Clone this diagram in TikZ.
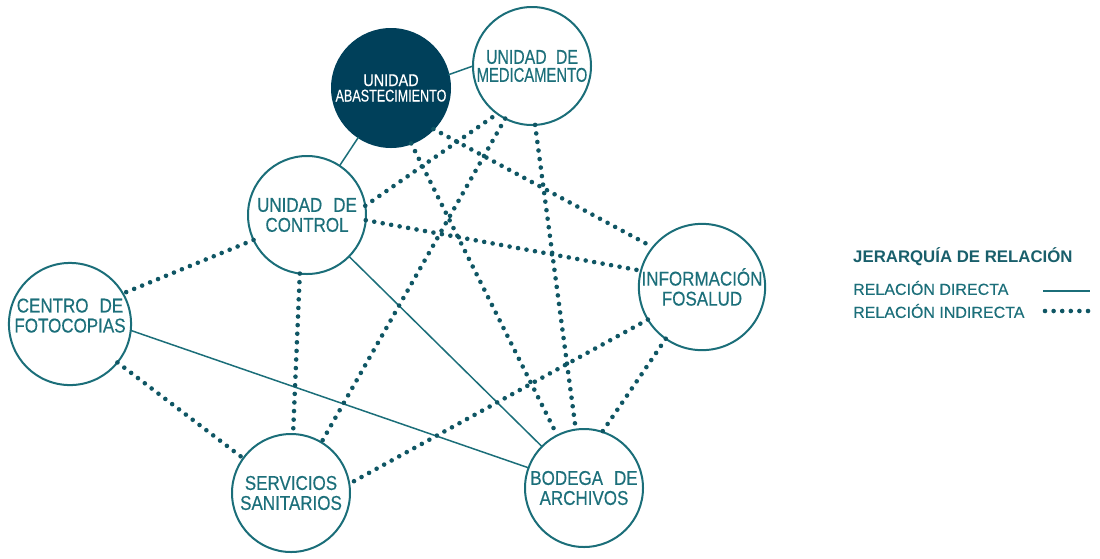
\documentclass[tikz,border=0pt]{standalone}
\usepackage{fontspec}
\setmainfont{Liberation Sans}
\newfontfamily\nodefont[FakeStretch=0.85,FakeBold=0.4]{Liberation Sans}
\newfontfamily\legfont[FakeBold=0.2]{Liberation Sans}
\definecolor{tealline}{HTML}{1B6E79}
\definecolor{tealdot}{HTML}{0F5664}
\definecolor{tealtext}{HTML}{1C6F7A}
\definecolor{tealdark}{HTML}{00405A}
\definecolor{tealtitle}{HTML}{195F6B}
\tikzset{
  unit/.style={circle, draw=tealline, line width=2pt, minimum size=118pt, inner sep=0pt, outer sep=0pt,
    align=center, text=tealtext, font=\nodefont\fontsize{20}{20}\selectfont},
  unitdark/.style={unit, fill=tealdark, draw=tealdark, text=white, font=\nodefont\fontsize{17}{15.5}\selectfont},
  direct/.style={draw=tealline, line width=1.5pt},
  indirect/.style={draw=tealdot, line width=4.6pt, line cap=round, dash pattern=on 0pt off 8.6pt},
  legtext/.style={anchor=west, inner sep=0pt, text=tealtext, font=\legfont\fontsize{16}{16}\selectfont},
}
\begin{document}
\begin{tikzpicture}[x=1pt,y=-1pt]
\useasboundingbox (0,0) rectangle (1100,558);
% nodes
\node[unitdark] (ab)   at (391,88)  {UNIDAD\\\scalebox{0.87}[1]{ABASTECIMIENTO}};
\node[unit, font=\nodefont\fontsize{20}{18}\selectfont] (med) at (532,66) {\scalebox{0.93}[1]{UNIDAD\hspace{10pt}DE}\\\scalebox{0.87}[1]{MEDICAMENTO}};
\node[unit]     (ctrl) at (307,215) {UNIDAD\hspace{11pt}DE\\CONTROL};
\node[unit]     (foto) at (70,324)  {CENTRO\hspace{11pt}DE\\FOTOCOPIAS\\[-3pt]\mbox{}};
\node[unit]     (info) at (702,287) {INFORMACIÓN\\FOSALUD};
\node[unit]     (serv) at (291,493) {SERVICIOS\\SANITARIOS};
\node[unit]     (bod)  at (584,488) {BODEGA\hspace{11pt}DE\\ARCHIVOS};
% direct relations
\draw[direct] (ab.13) -- (med.180);
\draw[direct] (ab) -- (ctrl);
\draw[direct] (ctrl) -- (bod);
\draw[direct] (foto.-6) -- (bod.160);
% indirect relations
\draw[indirect] (ctrl.205) -- (foto.30);
\draw[indirect] (ctrl.9) -- (med.234);
\draw[indirect] (ctrl.-5) -- (info.165);
\draw[indirect] (ctrl.-97) -- (serv.88);
\draw[indirect] (ab.-70) -- (bod.117);
\draw[indirect] (ab.-44) -- (info.141);
\draw[indirect] (med.243) -- (serv.59);
\draw[indirect] (med.-87) -- (bod.98);
\draw[indirect] (foto.-39) -- (serv.144);
\draw[indirect] (info.211) -- (serv.9);
\draw[indirect] (info.235) -- (bod.72);
% legend
\node[anchor=west, inner sep=0pt, text=tealtitle, font=\bfseries\fontsize{16.8}{17}\selectfont] (legtitle) at (853,257) {JERARQUÍA DE RELACIÓN};
\node[legtext] (legdir) at (853,288) {RELACIÓN DIRECTA};
\node[legtext] (legind) at (853,311) {RELACIÓN INDIRECTA};
\coordinate (d1) at (1043,291);
\coordinate (d2) at (1090,291);
\coordinate (i1) at (1045,311);
\coordinate (i2) at (1088,311);
\draw[direct] (d1) -- (d2);
\draw[indirect] (i1) -- (i2);
\end{tikzpicture}
\end{document}
